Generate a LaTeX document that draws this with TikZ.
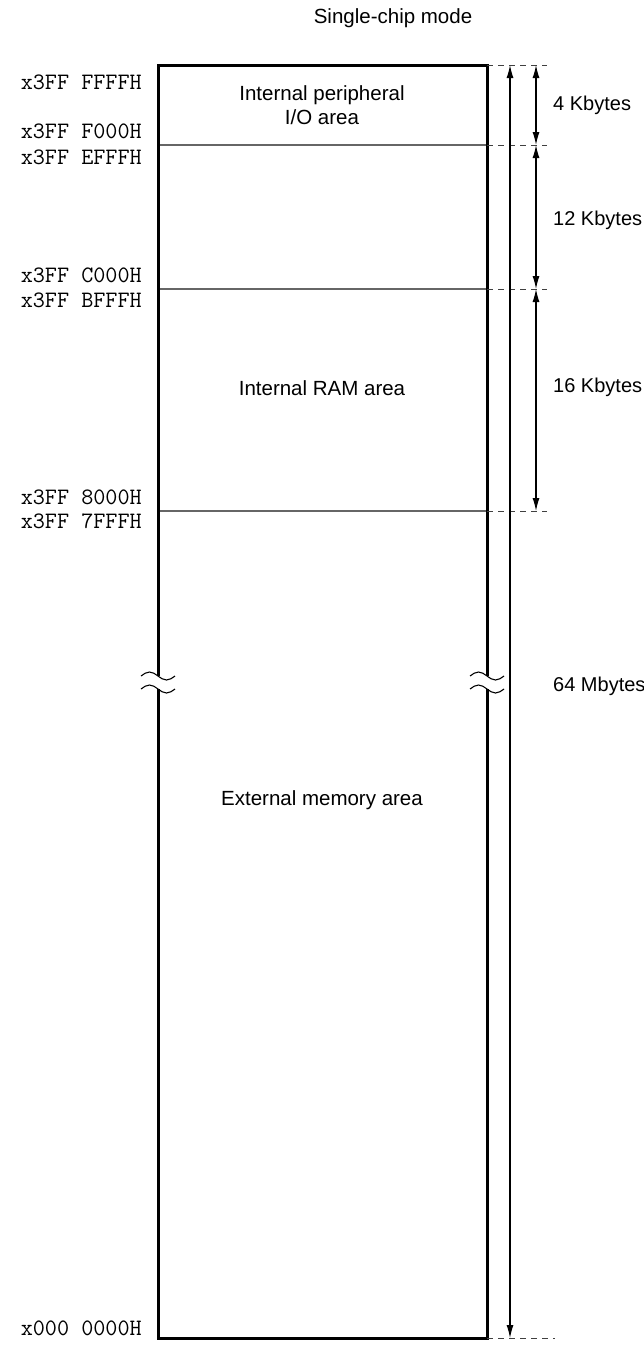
\documentclass[tikz,border=0pt]{standalone}
\usepackage{fontspec}
\setmainfont{Liberation Sans}
\usetikzlibrary{arrows.meta}
\begin{document}
\begin{tikzpicture}[x=1pt,y=-1pt,
  txt/.style={font=\fontsize{20.5}{24}\selectfont, inner sep=0pt, align=center},
  sizelbl/.style={font=\fontsize{20}{24}\selectfont, inner sep=0pt, anchor=west},
  addr/.style={font=\ttfamily\fontsize{23.5}{27}\selectfont, inner sep=0pt, anchor=east},
  boxline/.style={line width=3pt, line join=miter},
  divline/.style={line width=1.2pt, black!60},
  dashln/.style={dash pattern=on 6pt off 5pt, line width=1pt, black!75},
  dimarrow/.style={line width=1.1pt, {Latex[length=13pt,width=7pt]}-{Latex[length=13pt,width=7pt]}},
  breakmark/.style={line width=1.1pt}]
\useasboundingbox (0,0) rectangle (643,1349);

% key coordinates
\coordinate (tl) at (158,65);
\coordinate (tr) at (487,65);
\coordinate (bl) at (158,1338);
\coordinate (br) at (487,1338);
\coordinate (l145) at (158,145);
\coordinate (r145) at (487,145);
\coordinate (l289) at (158,289);
\coordinate (r289) at (487,289);
\coordinate (l511) at (158,511);
\coordinate (r511) at (487,511);
\coordinate (lb1) at (158,676);
\coordinate (lb2) at (158,689);
\coordinate (rb1) at (487,676);
\coordinate (rb2) at (487,689);

% dashed extension ends
\coordinate (d65) at (547,65);
\coordinate (d145) at (547,145);
\coordinate (d289) at (547,289);
\coordinate (d511) at (547,511);
\coordinate (d1338) at (555,1338);

% arrow end points
\coordinate (la1) at (510,65);
\coordinate (la2) at (510,1338);
\coordinate (sa1) at (536,65);
\coordinate (sa2) at (536,145);
\coordinate (sa3) at (536,289);
\coordinate (sa4) at (536,511);

% title
\node[txt] (title) at (393,18) {Single-chip mode};

% dividers
\draw[divline] (l145) -- (r145);
\draw[divline] (l289) -- (r289);
\draw[divline] (l511) -- (r511);

% box with break
\draw[boxline] (lb1) -- (tl) -- (tr) -- (rb1);
\draw[boxline] (lb2) -- (bl) -- (br) -- (rb2);

% break marks
\foreach \xx in {158,487}{
  \foreach \yy in {676,689}{
    \draw[breakmark] (\xx-17,\yy) sin (\xx-8.5,\yy-4) cos (\xx,\yy) sin (\xx+8.5,\yy+4) cos (\xx+17,\yy);
  }
}

% dashed extensions
\draw[dashln] (tr) -- (d65);
\draw[dashln] (r145) -- (d145);
\draw[dashln] (r289) -- (d289);
\draw[dashln] (r511) -- (d511);
\draw[dashln] (br) -- (d1338);

% dimension arrows
\draw[dimarrow] (la1) -- (la2);
\draw[dimarrow] (sa1) -- (sa2);
\draw[dimarrow] (sa2) -- (sa3);
\draw[dimarrow] (sa3) -- (sa4);

% size labels
\node[sizelbl] (k4) at (553,105) {4 Kbytes};
\node[sizelbl] (k12) at (553,220) {12 Kbytes};
\node[sizelbl] (k16) at (553,387) {16 Kbytes};
\node[sizelbl] (m64) at (553,686) {64 Mbytes};

% area labels
\node[txt] (io) at (322,105) {Internal peripheral\\I/O area};
\node[txt] (ram) at (322,388) {Internal RAM area};
\node[txt] (ext) at (322,800) {External memory area};

% addresses
\node[addr] (a1) at (142,82) {x3FF FFFFH};
\node[addr] (a2) at (142,131) {x3FF F000H};
\node[addr] (a3) at (142,157) {x3FF EFFFH};
\node[addr] (a4) at (142,275) {x3FF C000H};
\node[addr] (a5) at (142,300) {x3FF BFFFH};
\node[addr] (a6) at (142,497) {x3FF 8000H};
\node[addr] (a7) at (142,521) {x3FF 7FFFH};
\node[addr] (a8) at (142,1328) {x000 0000H};
\end{tikzpicture}
\end{document}
